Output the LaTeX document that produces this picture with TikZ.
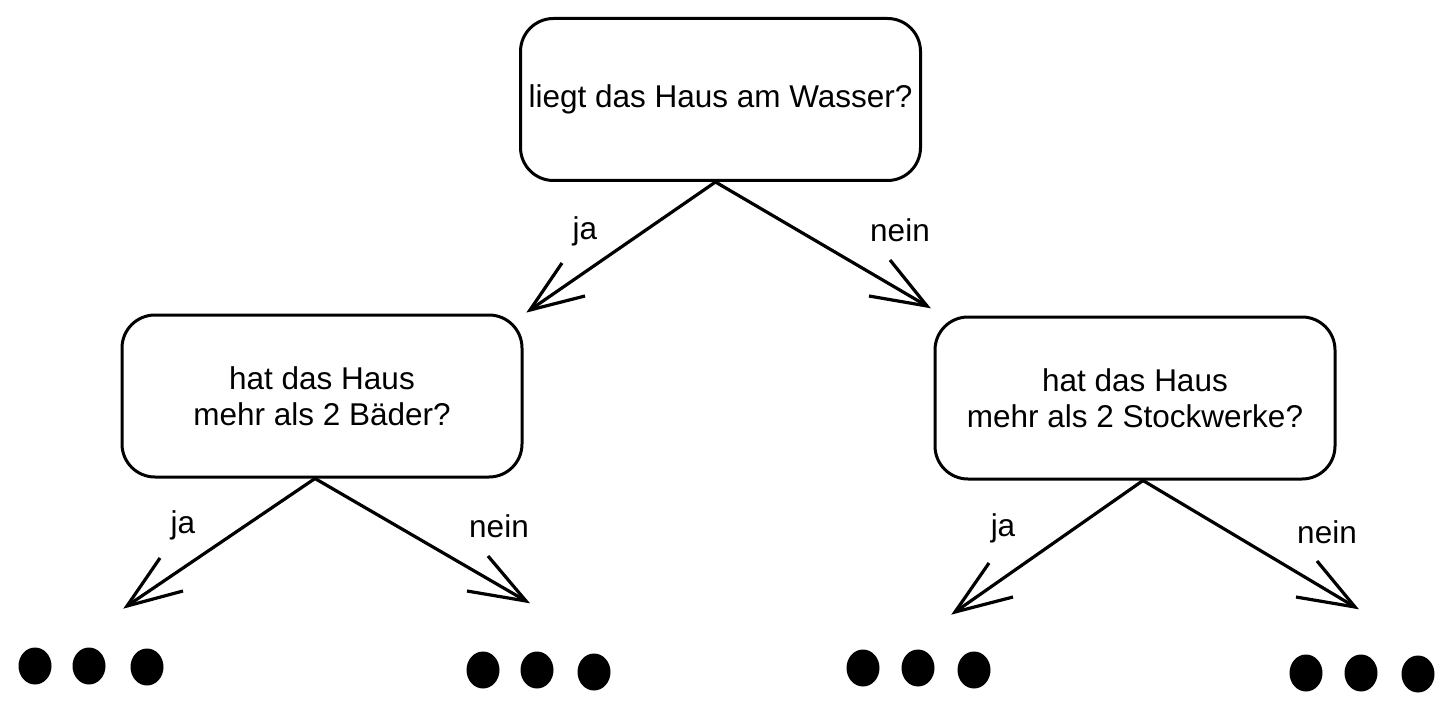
\documentclass[tikz,border=0pt]{standalone}
\usepackage{fontspec}
\setmainfont{Liberation Sans}
\begin{document}
\begin{tikzpicture}[x=1pt,y=-1pt,
  box/.style={draw, line width=3pt, rounded corners=33pt, minimum width=400pt,
    minimum height=162pt, align=center, inner sep=0pt, font=\fontsize{31.5}{36}\selectfont},
  conn/.style={line width=3.2pt},
  lbl/.style={anchor=base, inner sep=0pt, font=\fontsize{31.5}{36}\selectfont},
  dot/.style={fill=black}]
\path[use as bounding box] (0,0) rectangle (1453,711);

\node[box] (top) at (720.5,99.5) {liegt das Haus am Wasser?};
\node[box] (left) at (322,396) {hat das Haus\\mehr als 2 Bäder?};
\node[box] (right) at (1135,398) {hat das Haus\\mehr als 2 Stockwerke?};

% top arrows
\coordinate (tA) at (530,310); \coordinate (tA1) at (562,263); \coordinate (tA2) at (585,296);
\coordinate (tB) at (927,306); \coordinate (tB1) at (890,260); \coordinate (tB2) at (869,296);
\draw[conn] ([xshift=-5pt]top.south) -- (tA);
\draw[conn] (tA1) -- (tA) -- (tA2);
\draw[conn] ([xshift=-5pt]top.south) -- (tB);
\draw[conn] (tB1) -- (tB) -- (tB2);
\node[lbl] (lja0) at (585,240) {ja};
\node[lbl] (lnein0) at (900,242) {nein};

% left arrows
\coordinate (lA) at (127,606); \coordinate (lA1) at (160,558); \coordinate (lA2) at (183,591);
\coordinate (lB) at (526,601); \coordinate (lB1) at (488,556); \coordinate (lB2) at (467,591);
\draw[conn] ([xshift=-7pt]left.south) -- (lA);
\draw[conn] (lA1) -- (lA) -- (lA2);
\draw[conn] ([xshift=-7pt]left.south) -- (lB);
\draw[conn] (lB1) -- (lB) -- (lB2);
\node[lbl] (lja1) at (183,533) {ja};
\node[lbl] (lnein1) at (499,537) {nein};

% right arrows
\coordinate (rA) at (955,612); \coordinate (rA1) at (989,563); \coordinate (rA2) at (1013,597);
\coordinate (rB) at (1355,607); \coordinate (rB1) at (1317,561); \coordinate (rB2) at (1296,597);
\draw[conn] ([xshift=8pt]right.south) -- (rA);
\draw[conn] (rA1) -- (rA) -- (rA2);
\draw[conn] ([xshift=8pt]right.south) -- (rB);
\draw[conn] (rB1) -- (rB) -- (rB2);
\node[lbl] (lja2) at (1003,536) {ja};
\node[lbl] (lnein2) at (1327,543) {nein};

% dots
\foreach \x/\y in {35/666, 89/666, 147/667, 483/670, 537/670, 594/672,
                   863/668, 918/668, 974/670, 1306/673, 1361/673, 1418/674}
  \fill[dot] (\x,\y) ellipse (16.5 and 18.5);
\end{tikzpicture}
\end{document}
